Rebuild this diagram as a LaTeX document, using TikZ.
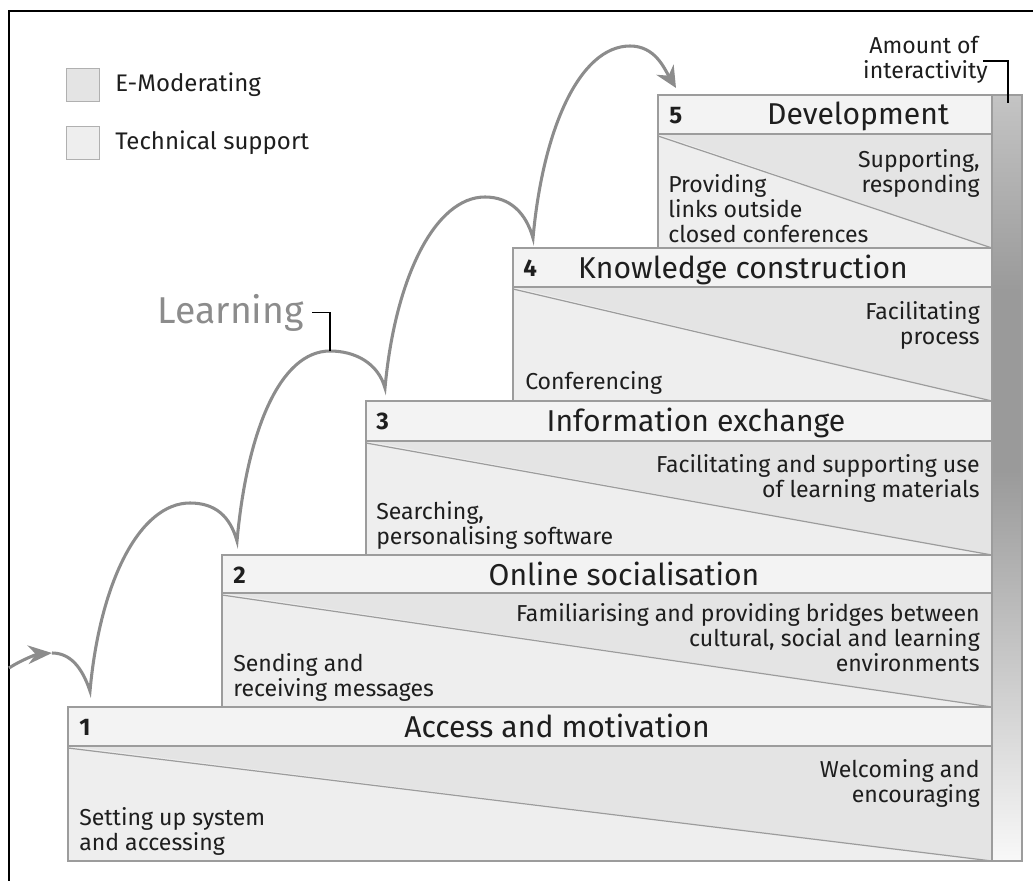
\documentclass[tikz,border=0pt]{standalone}
\usepackage{fontspec}
\setmainfont{Fira Sans}
\usepackage{tikz}
\usetikzlibrary{positioning, arrows.meta}

\definecolor{bandgray}{HTML}{F3F3F3}
\definecolor{emodgray}{HTML}{E4E4E4}
\definecolor{techgray}{HTML}{EEEEEE}
\definecolor{edgegray}{HTML}{9C9C9C}
\definecolor{hopgray}{HTML}{8C8C8C}
\definecolor{inkgray}{HTML}{1E1E1E}
\definecolor{bartop}{HTML}{C4C4C4}
\definecolor{barmid}{HTML}{9A9A9A}
\definecolor{barlow}{HTML}{F8F8F8}

\begin{document}
\begin{tikzpicture}[
    x=0.75pt, y=-0.75pt,
    band/.style={fill=bandgray, draw=edgegray, line width=1.1pt},
    moder/.style={fill=emodgray},
    techs/.style={fill=techgray},
    diag/.style={draw=edgegray, line width=0.9pt},
    boxedge/.style={draw=edgegray, line width=1.1pt},
    hop/.style={draw=hopgray, line width=2.3pt},
    hoptip/.style={-{Stealth[length=16pt, width=15pt]}},
    leader/.style={draw=black, line width=1.1pt},
    legsq/.style={draw=edgegray!80, line width=1.1pt, minimum size=25pt, inner sep=0pt},
    small/.style={font=\fontsize{17.3}{18.7}\selectfont, text=inkgray, inner sep=0pt},
    stepname/.style={font=\fontsize{22.6}{24}\selectfont, text=inkgray, inner sep=0pt},
    stepnum/.style={font=\bfseries\fontsize{18}{20}\selectfont, text=inkgray, inner sep=0pt}
]
    \useasboundingbox (0,0) rectangle (1033,881);

    % Frame
    \draw[line width=1.6pt] (9,895) -- (9,11) -- (1045,11);

    % Legend
    \node[legsq, fill=emodgray] (sq1) at (83,85) {};
    \node[legsq, fill=techgray] (sq2) at (83,143) {};
    \node[small, font=\fontsize{18}{20}\selectfont, right=11pt of sq1] (leg1) {E-Moderating};
    \node[small, font=\fontsize{18}{20}\selectfont, right=11pt of sq2] (leg2) {Technical support};

    % Step 1
    \fill[techs] (68,746) rectangle (992,861);
    \fill[moder] (68,746) -- (992,746) -- (992,861) -- cycle;
    \draw[diag] (68,748) -- (992,861);
    \draw[boxedge] (68,746) rectangle (992,861);
    \draw[band] (68,707) rectangle (992,746);
    \node[stepnum, anchor=base west] (n1) at (79,735) {1};
    \node[stepname, anchor=base] (t1) at (557,737) {Access and motivation};
    \node[small, anchor=north west, align=left] (a1) at (79,807) {Setting up system\\and accessing};
    \node[small, anchor=north east, align=right] (b1) at (980,759) {Welcoming and\\encouraging};

    % Step 2
    \fill[techs] (222,593) rectangle (992,707);
    \fill[moder] (222,593) -- (992,593) -- (992,707) -- cycle;
    \draw[diag] (222,595) -- (992,707);
    \draw[boxedge] (222,593) rectangle (992,707);
    \draw[band] (222,555) rectangle (992,593);
    \node[stepnum, anchor=base west] (n2) at (233,583) {2};
    \node[stepname, anchor=base] (t2) at (624,585) {Online socialisation};
    \node[small, anchor=north west, align=left] (a2) at (233,653) {Sending and\\receiving messages};
    \node[small, anchor=north east, align=right] (b2) at (980,603) {Familiarising and providing bridges between\\cultural, social and learning\\environments};

    % Step 3
    \fill[techs] (366,441) rectangle (992,555);
    \fill[moder] (366,441) -- (992,441) -- (992,555) -- cycle;
    \draw[diag] (366,443) -- (992,555);
    \draw[boxedge] (366,441) rectangle (992,555);
    \draw[band] (366,401) rectangle (992,441);
    \node[stepnum, anchor=base west] (n3) at (376,429) {3};
    \node[stepname, anchor=base] (t3) at (696,431) {Information exchange};
    \node[small, anchor=north west, align=left] (a3) at (376,501) {Searching,\\personalising software};
    \node[small, anchor=north east, align=right] (b3) at (980,454) {Facilitating and supporting use\\of learning materials};

    % Step 4
    \fill[techs] (513,287) rectangle (992,401);
    \fill[moder] (513,287) -- (992,287) -- (992,401) -- cycle;
    \draw[diag] (513,289) -- (992,401);
    \draw[boxedge] (513,287) rectangle (992,401);
    \draw[band] (513,248) rectangle (992,287);
    \node[stepnum, anchor=base west] (n4) at (523,276) {4};
    \node[stepname, anchor=base] (t4) at (743,278) {Knowledge construction};
    \node[small, anchor=north west, align=left] (a4) at (525,371) {Conferencing};
    \node[small, anchor=north east, align=right] (b4) at (980,301) {Facilitating\\process};

    % Step 5
    \fill[techs] (658,134) rectangle (992,248);
    \fill[moder] (658,134) -- (992,134) -- (992,248) -- cycle;
    \draw[diag] (658,136) -- (992,248);
    \draw[boxedge] (658,134) rectangle (992,248);
    \draw[band] (658,95) rectangle (992,134);
    \node[stepnum, anchor=base west] (n5) at (669,123) {5};
    \node[stepname, anchor=base] (t5) at (858,125) {Development};
    \node[small, anchor=north west, align=left] (a5) at (668,174) {Providing\\links outside\\closed conferences};
    \node[small, anchor=north east, align=right] (b5) at (980,149) {Supporting,\\responding};

    % Interactivity bar
    \shade[top color=bartop, bottom color=barmid] (992,95) rectangle (1022,291);
    \fill[barmid] (992,290) rectangle (1022,471);
    \shade[top color=barmid, bottom color=barlow] (992,470) rectangle (1022,861);
    \draw[boxedge] (992,95) rectangle (1022,861);

    \node[small, anchor=north east, align=right] (amount) at (988,36) {Amount of\hspace*{7pt}\\interactivity};
    \coordinate (ia) at (983,61);
    \coordinate (ib) at (1008,103);
    \draw[leader] (ia) -| (ib);

    % Learning hops
    \coordinate (s0) at (9,668);
    \coordinate (p0) at (52,653);
    \coordinate (c1) at (90,691);
    \coordinate (k1) at (190,503);
    \coordinate (c2) at (237,541);
    \coordinate (k2) at (330,351);
    \coordinate (c3) at (385,388);
    \coordinate (k3) at (485,197);
    \coordinate (c4) at (533,238);
    \coordinate (k4) at (630,46);
    \coordinate (e5) at (676,88);

    \draw[hop, -{Stealth[length=18pt, width=14pt]}] (s0) .. controls +(14,-9) and +(-14,1) .. (p0);
    \draw[hop, hoptip] (p0) .. controls +(18,0) and +(-8,-24) .. (c1)
        .. controls +(10,-110) and +(-50,0) .. (k1)
        .. controls +(25,0) and +(-7,-25) .. (c2)
        .. controls +(10,-110) and +(-50,0) .. (k2)
        .. controls +(25,0) and +(-7,-25) .. (c3)
        .. controls +(10,-110) and +(-50,0) .. (k3)
        .. controls +(25,0) and +(-7,-25) .. (c4)
        .. controls +(10,-110) and +(-50,0) .. (k4)
        .. controls +(25,0) and +(-12,-20) .. (e5);

    \node[font=\fontsize{28}{30}\selectfont, text=hopgray, inner sep=0pt, anchor=base east] (learn) at (304,323) {Learning};
    \draw[leader] ([xshift=6pt]learn.east) -| (k2);

\end{tikzpicture}
\end{document}
